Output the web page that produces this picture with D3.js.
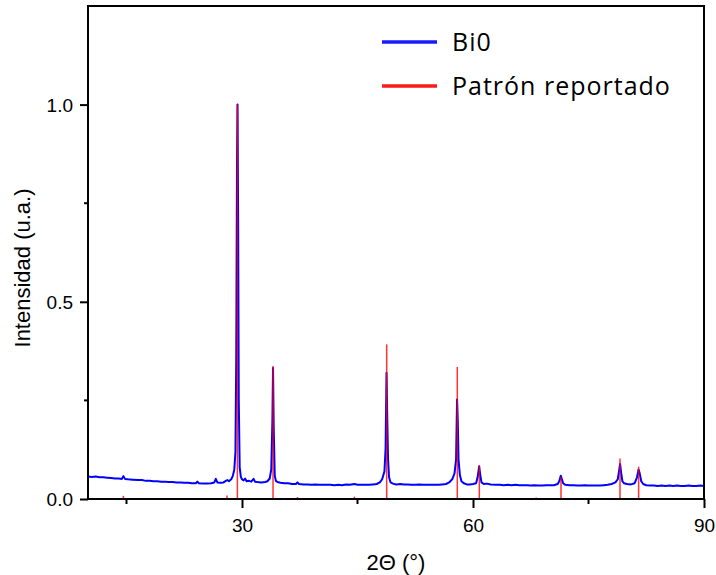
<!DOCTYPE html>
<html>
<head>
<meta charset="utf-8">
<script src="https://cdn.jsdelivr.net/npm/d3@7"></script>
<style>
  html, body { margin: 0; padding: 0; background: #fff; }
  svg { display: block; }
  .tick-label { font-family: "Liberation Sans", Arial, sans-serif; font-size: 19px; fill: #000; }
  .axis-title { font-family: "Liberation Sans", Arial, sans-serif; font-size: 22px; fill: #000; }
  .legend-text { font-family: "Open Sans", sans-serif; font-size: 25px; letter-spacing: 1px; fill: #000; }
</style>
</head>
<body>
<svg id="chart" width="716" height="575"></svg>
<script>
// Measured diffraction pattern (sample Bi0): 2θ in degrees and normalised intensity
const twoTheta = [
  10.0, 10.5, 11.0, 11.5, 12.0, 12.5, 13.0, 13.5, 14.0, 14.4, 14.6, 14.8, 15.2, 15.8, 16.5, 17.0, 17.5, 18.0,
  18.5, 19.0, 19.5, 20.0, 20.5, 21.0, 21.5, 22.0, 22.5, 23.0, 23.5, 24.0, 24.2, 24.4, 25.0, 25.5, 26.0, 26.4,
  26.6, 26.8, 27.2, 27.6, 27.9, 28.1, 28.3, 28.6, 28.8, 29.0, 29.15, 29.25, 29.35, 29.42, 29.5, 29.58, 29.7,
  29.85, 30.0, 30.2, 30.4, 30.6, 30.9, 31.2, 31.5, 31.7, 32.0, 32.5, 33.0, 33.3, 33.6, 33.8, 33.95, 34.03,
  34.12, 34.25, 34.4, 34.6, 35.0, 35.5, 36.0, 36.5, 37.0, 37.2, 37.4, 38.0, 38.5, 39.0, 39.5, 40.0, 40.5,
  41.0, 41.5, 42.0, 42.5, 43.0, 43.5, 44.0, 44.6, 45.0, 45.5, 46.0, 46.5, 47.0, 47.5, 47.9, 48.2, 48.5,
  48.65, 48.77, 48.87, 48.97, 49.1, 49.3, 49.6, 50.0, 50.6, 51.0, 51.5, 52.0, 52.5, 53.0, 53.5, 54.0, 54.5,
  55.0, 55.5, 56.0, 56.5, 56.9, 57.3, 57.6, 57.8, 57.93, 58.02, 58.12, 58.3, 58.5, 58.8, 59.2, 59.6, 60.0,
  60.4, 60.6, 60.8, 60.95, 61.1, 61.4, 61.8, 62.3, 63.0, 63.5, 64.0, 64.5, 65.0, 65.5, 66.0, 66.5, 67.0,
  67.5, 68.0, 68.5, 69.0, 69.5, 70.0, 70.5, 71.0, 71.2, 71.4, 71.55, 71.7, 72.0, 72.5, 73.0, 73.5, 74.0,
  74.5, 75.0, 75.5, 76.0, 76.5, 77.0, 77.5, 78.0, 78.5, 78.8, 79.0, 79.1, 79.25, 79.4, 79.6, 80.0, 80.5,
  81.0, 81.3, 81.5, 81.65, 81.85, 82.1, 82.5, 83.0, 83.5, 84.0, 84.5, 85.0, 85.5, 86.0, 86.5, 87.0, 87.5,
  88.0, 88.5, 89.0, 89.5, 90.0
];
const intensity = [
  0.057, 0.056, 0.057, 0.055, 0.055, 0.054, 0.053, 0.052, 0.052, 0.051, 0.058, 0.051, 0.050, 0.049, 0.048, 0.048, 0.046, 0.046,
  0.045, 0.045, 0.044, 0.044, 0.043, 0.043, 0.042, 0.042, 0.041, 0.041, 0.040, 0.040, 0.044, 0.040, 0.039, 0.039, 0.040, 0.042,
  0.051, 0.042, 0.041, 0.042, 0.046, 0.048, 0.045, 0.050, 0.058, 0.075, 0.120, 0.350, 0.850, 1.000, 0.700, 0.250, 0.080,
  0.056, 0.050, 0.047, 0.052, 0.045, 0.046, 0.044, 0.051, 0.044, 0.043, 0.042, 0.043, 0.045, 0.052, 0.075, 0.200, 0.332,
  0.180, 0.060, 0.046, 0.043, 0.041, 0.040, 0.040, 0.038, 0.038, 0.042, 0.038, 0.037, 0.037, 0.036, 0.037, 0.036, 0.036,
  0.036, 0.036, 0.035, 0.036, 0.035, 0.037, 0.036, 0.038, 0.036, 0.036, 0.036, 0.036, 0.037, 0.038, 0.042, 0.050, 0.070,
  0.130, 0.320, 0.200, 0.100, 0.055, 0.042, 0.039, 0.037, 0.038, 0.037, 0.037, 0.036, 0.036, 0.037, 0.036, 0.036, 0.036,
  0.036, 0.036, 0.037, 0.038, 0.042, 0.050, 0.065, 0.100, 0.252, 0.200, 0.100, 0.060, 0.045, 0.040, 0.037, 0.037, 0.038,
  0.040, 0.055, 0.083, 0.060, 0.042, 0.038, 0.039, 0.037, 0.036, 0.036, 0.035, 0.036, 0.035, 0.036, 0.035, 0.035, 0.035,
  0.034, 0.035, 0.034, 0.034, 0.035, 0.035, 0.035, 0.038, 0.045, 0.059, 0.050, 0.040, 0.036, 0.035, 0.035, 0.034, 0.034,
  0.035, 0.034, 0.034, 0.034, 0.034, 0.035, 0.036, 0.038, 0.042, 0.050, 0.075, 0.089, 0.065, 0.045, 0.040, 0.038, 0.037,
  0.040, 0.055, 0.075, 0.065, 0.045, 0.038, 0.035, 0.034, 0.034, 0.033, 0.034, 0.033, 0.034, 0.033, 0.034, 0.033, 0.033,
  0.034, 0.033, 0.033, 0.034, 0.033
];

// Reported reference pattern: line positions and relative intensities
const refPositions = [14.6, 28.05, 29.4, 34.03, 37.2, 44.6, 48.79, 57.96, 60.82, 68.2, 71.43, 79.09, 81.51];
const refIntensities = [0.008, 0.009, 1.0, 0.337, 0.005, 0.006, 0.392, 0.335, 0.085, 0.004, 0.055, 0.103, 0.082];

// Axis ticks
const xMajorTicks = [30, 60, 90];
const xMinorTicks = [15, 45, 75];
const yMajorTicks = [0.0, 0.5, 1.0];
const yMinorTicks = [0.25, 0.75];

const seriesNames = ["Bi0", "Patrón reportado"];
const seriesColors = ["#1a1aff", "#ff1a1a"];

const svg = d3.select("#chart");
const plot = { left: 88, right: 704, top: 6, bottom: 499 };

const x = d3.scaleLinear().domain([10, 90]).range([plot.left, plot.right]);
const y = d3.scaleLinear().domain([0, 1.25]).range([plot.bottom, plot.top]);

const measured = twoTheta.map((t, i) => ({ t, v: intensity[i] }));

// Measured pattern
svg.append("path")
  .datum(measured)
  .attr("fill", "none")
  .attr("stroke", "#0000ff")
  .attr("stroke-width", 2)
  .attr("stroke-linejoin", "round")
  .attr("d", d3.line().x(d => x(d.t)).y(d => y(d.v)));

// Reference sticks
svg.append("g")
  .selectAll("line")
  .data(refPositions.map((p, i) => ({ p, v: refIntensities[i] })))
  .join("line")
  .attr("x1", d => x(d.p)).attr("x2", d => x(d.p))
  .attr("y1", y(0)).attr("y2", d => y(d.v))
  .attr("stroke", "#ff0000")
  .attr("stroke-opacity", 0.8)
  .attr("stroke-width", 1.5);

// Bottom axis with major and minor ticks
const xAxis = svg.append("g").attr("transform", `translate(0,${plot.bottom})`)
  .call(d3.axisBottom(x).tickValues(xMajorTicks).tickSize(9).tickSizeOuter(0).tickFormat(d3.format("d")));
xAxis.append("g").selectAll("line").data(xMinorTicks).join("line")
  .attr("x1", d => x(d)).attr("x2", d => x(d)).attr("y1", 0).attr("y2", 5)
  .attr("stroke", "#000").attr("stroke-width", 2);

// Left axis with major and minor ticks
const yAxis = svg.append("g").attr("transform", `translate(${plot.left},0)`)
  .call(d3.axisLeft(y).tickValues(yMajorTicks).tickSize(8).tickSizeOuter(0).tickFormat(d3.format(".1f")));
yAxis.append("g").selectAll("line").data(yMinorTicks).join("line")
  .attr("x1", 0).attr("x2", -4).attr("y1", d => y(d)).attr("y2", d => y(d))
  .attr("stroke", "#000").attr("stroke-width", 2);

[xAxis, yAxis].forEach(g => {
  g.select(".domain").remove();
  g.selectAll(".tick line").attr("stroke", "#000").attr("stroke-width", 2);
  g.selectAll(".tick text").attr("class", "tick-label").attr("font-size", null).attr("font-family", null);
});
xAxis.selectAll(".tick text").attr("dy", null).attr("y", 33);
yAxis.selectAll(".tick text").attr("x", -15).attr("dy", "0.36em");

// Frame
svg.append("rect")
  .attr("x", plot.left).attr("y", plot.top)
  .attr("width", plot.right - plot.left).attr("height", plot.bottom - plot.top)
  .attr("fill", "none").attr("stroke", "#000").attr("stroke-width", 2);

// Axis titles
svg.append("text").attr("class", "axis-title")
  .attr("x", 396).attr("y", 570).attr("text-anchor", "middle")
  .text("2\u0398 (\u00b0)");
svg.append("text").attr("class", "axis-title")
  .attr("transform", "translate(30,268) rotate(-90)")
  .attr("text-anchor", "middle")
  .text("Intensidad (u.a.)");

// Legend
const legendRows = [42, 86];
const legend = svg.append("g");
seriesNames.forEach((name, i) => {
  legend.append("line")
    .attr("x1", 382).attr("x2", 437)
    .attr("y1", legendRows[i]).attr("y2", legendRows[i])
    .attr("stroke", seriesColors[i]).attr("stroke-width", 3.5);
  legend.append("text").attr("class", "legend-text")
    .attr("x", 452).attr("y", legendRows[i] + 9)
    .text(name);
});
</script>
</body>
</html>
